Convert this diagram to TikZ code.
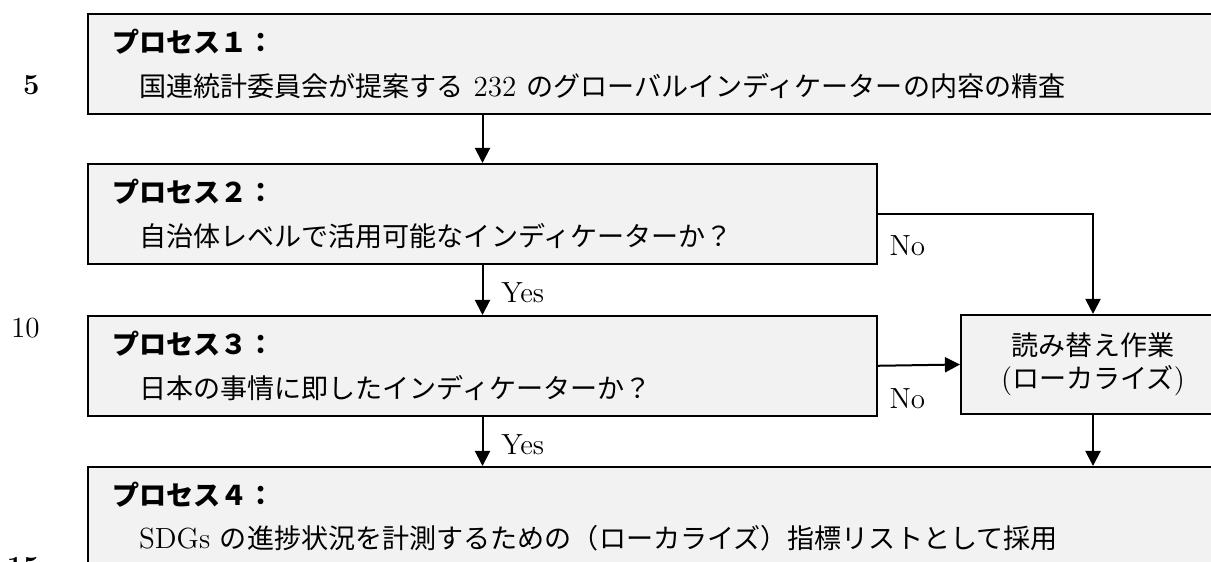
\documentclass[tikz,border=0pt]{standalone}
\usepackage{fontspec}
\newfontfamily\jp[Scale=0.93]{Noto Sans CJK JP}
\usetikzlibrary{arrows.meta}
\definecolor{boxgray}{RGB}{242,242,242}

\begin{document}
\begin{tikzpicture}[x=0.45pt, y=-0.45pt,
    font=\fontsize{13.1}{19.5}\selectfont,
    procbox/.style={draw, line width=0.9pt, fill=boxgray, anchor=north west,
      align=left, inner xsep=10.8pt, minimum height=44.8pt, text width=#1},
    locbox/.style={draw, line width=0.9pt, fill=boxgray, align=center,
      minimum width=118.8pt, minimum height=44.6pt,
      font=\fontsize{13.1}{15}\selectfont},
    flow/.style={line width=0.9pt, -{Triangle[length=6.8pt, width=6.8pt]}},
    lbl/.style={inner sep=0pt, anchor=west},
    lineno/.style={inner sep=0pt, anchor=east}]

    \useasboundingbox (0,0) rectangle (1211,562);
    \clip (0,0) rectangle (1211,562);

    \node[lineno] (n5) at (40,85) {\bfseries 5};
    \node[lineno] (n10) at (40,328) {10};
    \node[lineno] (n15) at (40,567) {\bfseries 15};

    \node[procbox=524.25pt] (p1) at (87,13)
        {{\jp\bfseries プロセス１：}\\{\jp 　国連統計委員会が提案する} 232 {\jp のグローバルインディケーターの内容の精査}};
    \node[procbox=333.45pt] (p2) at (87,163)
        {{\jp\bfseries プロセス２：}\\{\jp 　自治体レベルで活用可能なインディケーターか？}};
    \node[procbox=333.45pt] (p3) at (87,315)
        {{\jp\bfseries プロセス３：}\\{\jp 　日本の事情に即したインディケーターか？}};
    \node[procbox=524.25pt] (p4) at (87,466)
        {{\jp\bfseries プロセス４：}\\{\jp 　}SDGs {\jp の進捗状況を計測するための（ローカライズ）指標リストとして採用}};
    \node[locbox] (loc) at (1093,364.5) {{\jp 読み替え作業}\\({\jp ローカライズ})};

    \draw[flow] (p1.south -| p2.north) -- (p2.north);
    \draw[flow] (p2.south) -- node[lbl, right=8pt, yshift=-1.5pt] (yes1) {Yes} (p3.north);
    \draw[flow] (p3.south) -- node[lbl, right=8pt, yshift=-1.5pt] (yes2) {Yes} (p3.south |- p4.north);
    \draw[flow] (p2.east) -| (loc.north);
    \draw[flow] (p3.east) -- (loc.west);
    \draw[flow] (loc.south) -- (loc.south |- p4.north);

    \node[lbl] (no1) at ([xshift=5pt, yshift=-14.4pt]p2.east) {No};
    \node[lbl] (no2) at ([xshift=5pt, yshift=-15pt]p3.east) {No};
\end{tikzpicture}
\end{document}
